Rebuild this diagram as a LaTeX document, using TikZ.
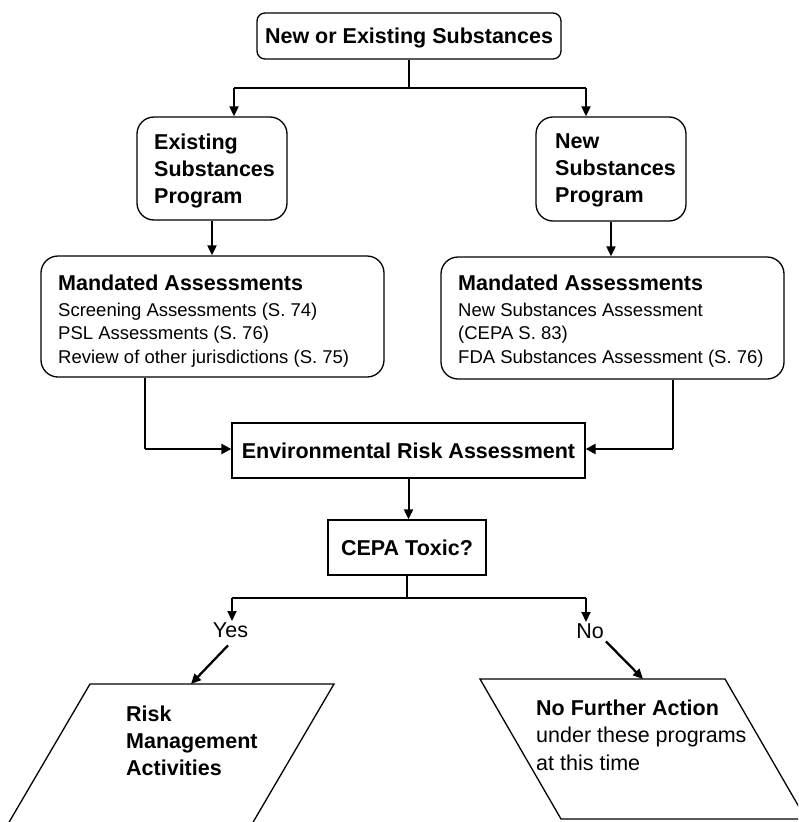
\documentclass[tikz,border=0pt]{standalone}
\usepackage{fontspec}
\setmainfont{Liberation Sans}
\usetikzlibrary{arrows.meta}
\newcommand{\myB}{\fontsize{21.5}{27}\selectfont\bfseries}
\newcommand{\myR}{\fontsize{21.5}{27.5}\selectfont}
\newcommand{\myS}{\fontsize{18.5}{23.5}\selectfont}
\begin{document}
\begin{tikzpicture}[x=1pt,y=-1pt,
  rbox/.style={draw, line width=1.3pt, rounded corners=17pt, inner sep=0pt},
  sbox/.style={draw, line width=1.3pt, inner sep=0pt, font=\myB, text height=15.4pt, text depth=0pt},
  lbl/.style={inner sep=0pt, align=left, anchor=north west},
  thinl/.style={line width=1.2pt},
  arr/.style={line width=2pt, -{Triangle[length=10pt,width=9pt]}},
  harr/.style={line width=2.6pt, -{Triangle[length=10pt,width=10pt]}},
  darr/.style={line width=2.3pt, -{Triangle[length=10pt,width=9pt]}},
  pbox/.style={line width=1.3pt}]
\useasboundingbox (0,0) rectangle (798,822);
\clip (0,0) rectangle (798,822);
% boxes
\node[rbox, rounded corners=8pt, minimum width=304pt, minimum height=46pt,
      font=\myB, text height=15.4pt, text depth=0pt] (top) at (409,36) {New or Existing Substances};
\node[rbox, minimum width=150pt, minimum height=103pt] (esp) at (212,168.5) {};
\node[lbl, font=\myB] (esptxt) at (154,133.5) {Existing\\Substances\\Program};
\node[rbox, minimum width=150pt, minimum height=104pt] (nsp) at (611,169) {};
\node[lbl, font=\myB] (nsptxt) at (555,133.5) {New\\Substances\\Program};
\node[rbox, minimum width=343pt, minimum height=121pt] (mandL) at (212.5,316.5) {};
\node[lbl, font=\myS] (mandLtxt) at (58,274.5) {{\myB Mandated Assessments}\\[2.5pt]Screening Assessments (S. 74)\\PSL Assessments (S. 76)\\Review of other jurisdictions (S. 75)};
\node[rbox, minimum width=343pt, minimum height=122pt] (mandR) at (612.5,318) {};
\node[lbl, font=\myS] (mandRtxt) at (458,274.5) {{\myB Mandated Assessments}\\[2.5pt]New Substances Assessment\\(CEPA S. 83)\\FDA Substances Assessment (S. 76)};
\node[sbox, minimum width=353pt, minimum height=55pt] (era) at (408.5,450.5) {Environmental Risk Assessment};
\node[sbox, minimum width=158pt, minimum height=55pt] (cepa) at (407,547.5) {CEPA Toxic?};
\node[font=\myR, inner sep=1pt, anchor=base] (yes) at (230.5,637) {Yes};
\node[font=\myR, inner sep=1pt, anchor=base] (no) at (590,638) {No};
% parallelograms
\coordinate (rmTL) at (90,684); \coordinate (rmTR) at (334,684);
\coordinate (rmBR) at (252,824); \coordinate (rmBL) at (8,824);
\draw[pbox] (rmTL) -- (rmTR) -- (rmBR) -- (rmBL) -- cycle;
\node[lbl, font=\myB] (rmtxt) at (126,705.5) {Risk\\Management\\Activities};
\coordinate (nfTL) at (480,679); \coordinate (nfTR) at (725,679);
\coordinate (nfBR) at (806,819); \coordinate (nfBL) at (561,819);
\draw[pbox] (nfTL) -- (nfTR) -- (nfBR) -- (nfBL) -- cycle;
\node[lbl, font=\myR] (nftxt) at (536,699.5) {{\myB No Further Action}\\under these programs\\at this time};
% connectors
\coordinate (bC) at (409,88); \coordinate (bL) at (234,88); \coordinate (bR) at (586,88);
\draw[thinl] (top.south) -- (bC);
\draw[thinl] (bL) -- (bR);
\draw[arr] (bL) -- (bL |- esp.north);
\draw[arr] (bR) -- (bR |- nsp.north);
\draw[arr] (esp.south) -- (esp.south |- mandL.north);
\draw[arr] (nsp.south) -- (nsp.south |- mandR.north);
\coordinate (jL) at (145,449); \coordinate (jR) at (673,449);
\draw[thinl] (mandL.south -| jL) -- (jL);
\draw[harr] (jL) -- (jL -| era.west);
\draw[thinl] (mandR.south -| jR) -- (jR);
\draw[harr] (jR) -- (jR -| era.east);
\draw[arr] (era.south) -- (era.south |- cepa.north);
\coordinate (cL) at (232,598); \coordinate (cR) at (586,598);
\draw[thinl] (cepa.south) -- (cepa.south |- cL);
\draw[thinl] (cL) -- (cR);
\draw[arr] (cL) -- (cL |- yes.north);
\draw[arr] (cR) -- (cR |- no.north);
\coordinate (rmIn) at (191,684); \coordinate (nfIn) at (643,679);
\draw[darr] ([xshift=-2.5pt,yshift=-7pt]yes.south) -- (rmIn);
\draw[darr] ([xshift=1pt,yshift=-2pt]no.south east) -- (nfIn);
\end{tikzpicture}
\end{document}
